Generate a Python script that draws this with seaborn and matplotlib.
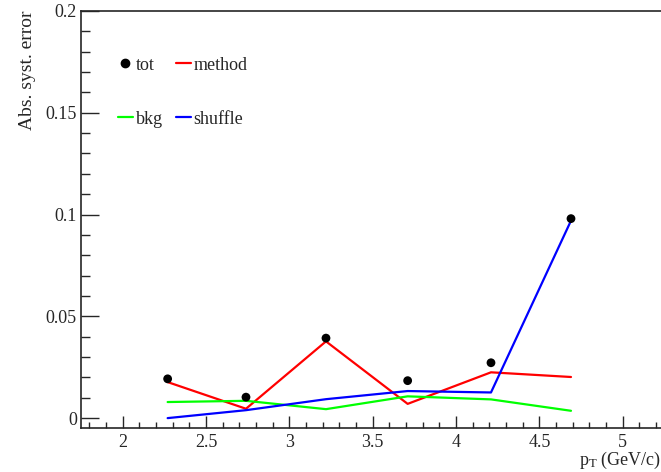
import numpy as np
import pandas as pd
import seaborn as sns
import matplotlib.pyplot as plt
from matplotlib.lines import Line2D

pt = [2.27, 2.74, 3.22, 3.71, 4.21, 4.69]
tot = [0.0193, 0.0103, 0.0393, 0.0184, 0.0272, 0.0980]
method = [0.0177, 0.0046, 0.0377, 0.0070, 0.0225, 0.0202]
bkg = [0.0079, 0.0085, 0.0044, 0.0107, 0.0092, 0.0036]
shuffle = [0.0000, 0.0039, 0.0093, 0.0133, 0.0126, 0.0970]

sns.set_style("ticks")
plt.rcParams['font.family'] = ['Liberation Serif', 'DejaVu Serif']
plt.rcParams['mathtext.fontset'] = 'stix'

lines = pd.DataFrame({
    'pt': pt * 3,
    'err': method + bkg + shuffle,
    'source': ['method'] * 6 + ['bkg'] * 6 + ['shuffle'] * 6,
})
pal = {'method': '#ff0000', 'bkg': '#00ff00', 'shuffle': '#0000ff'}

fig = plt.figure(figsize=(6.61, 4.72), dpi=100)
ax = fig.add_axes([0.1225, 0.0926, 0.8775, 0.8841])

sns.lineplot(data=lines, x='pt', y='err', hue='source', palette=pal,
             lw=1.6, ax=ax, legend=False, sort=False)
sns.scatterplot(x=pt, y=tot, color='black', s=40, edgecolor='none', ax=ax, zorder=5)

ax.set_xlim(1.75, 5.23)
ax.set_ylim(-0.005, 0.2)
ax.set_xticks(np.arange(2, 5.01, 0.5))
ax.set_xticklabels(['2', '2.5', '3', '3.5', '4', '4.5', '5'])
ax.set_xticks(np.arange(1.8, 5.25, 0.1), minor=True)
ax.set_yticks([0, 0.05, 0.1, 0.15, 0.2])
ax.set_yticklabels(['0', '0.05', '0.1', '0.15', '0.2'])
ax.set_yticks(np.arange(0, 0.201, 0.01), minor=True)

ax.tick_params(axis='both', which='both', direction='in', labelsize=13, width=1)
ax.tick_params(axis='x', which='major', length=8.6, pad=4)
ax.tick_params(axis='x', which='minor', length=4.3)
ax.tick_params(axis='y', which='major', length=13, pad=3)
ax.tick_params(axis='y', which='minor', length=6.5)
ax.tick_params(top=False, right=False, which='both')

ax.spines['right'].set_visible(False)
for s in ['left', 'top', 'bottom']:
    ax.spines[s].set_linewidth(1.2)

ax.set_xlabel(r'$\mathregular{p_{T}}$ (GeV/c)', fontsize=13, loc='right', labelpad=-1)
ax.set_ylabel('Abs. syst. error', fontsize=14, loc='top', labelpad=7)

handles = [
    Line2D([], [], marker='o', color='black', ls='none', markersize=6),
    Line2D([], [], color='#00ff00', lw=1.6),
    Line2D([], [], color='#ff0000', lw=1.6),
    Line2D([], [], color='#0000ff', lw=1.6),
]
ax.legend(handles, ['tot', 'bkg', 'method', 'shuffle'], ncol=2, frameon=False,
          loc='upper left', bbox_to_anchor=(0.051, 0.908), borderaxespad=0,
          fontsize=13, handlelength=0.85, handletextpad=0.15, columnspacing=0.7,
          labelspacing=2.05)

fig.savefig('out.png', dpi=100)
